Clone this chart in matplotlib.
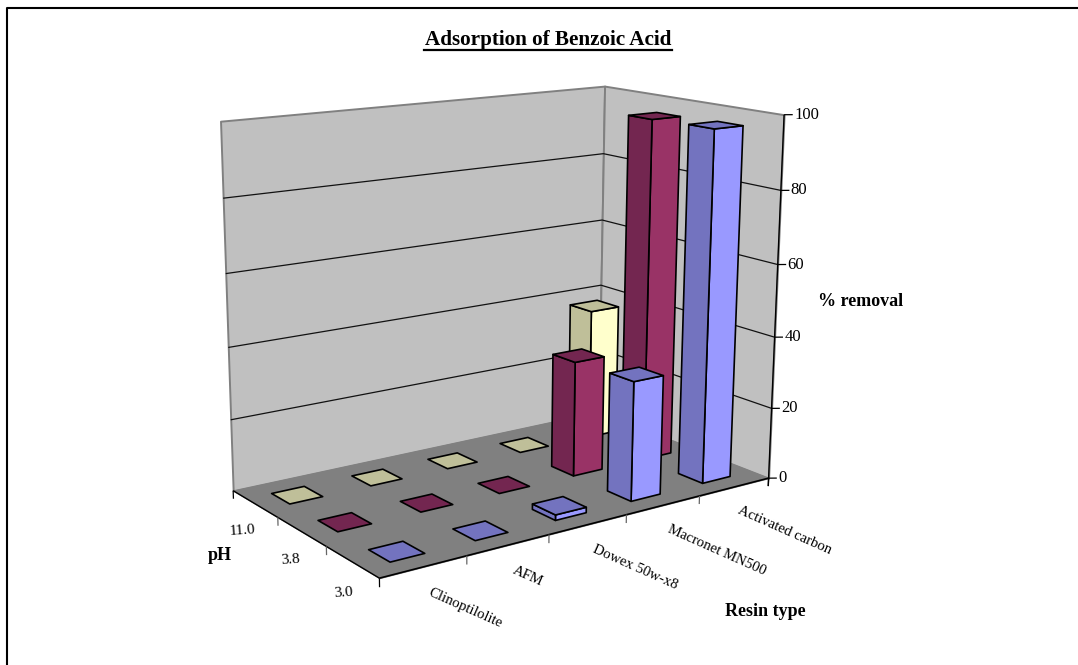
import numpy as np
import matplotlib
matplotlib.use('Agg')
import matplotlib.pyplot as plt
from matplotlib.axes import Axes
from matplotlib.lines import Line2D
from mpl_toolkits.mplot3d.art3d import Poly3DCollection

plt.rcParams['font.family'] = ['Liberation Serif', 'DejaVu Serif']

resin_types = ['Clinoptilolite', 'AFM', 'Dowex 50w-x8', 'Macronet MN500', 'Activated carbon']
ph_labels = ['3.0', '3.8', '11.0']
removal_ph30 = [0, 0, 1.5, 33, 97]
removal_ph38 = [0, 0, 0, 32.5, 96.6]
removal_ph110 = [0, 0, 0, 0, 38]
z_ticks = [0, 20, 40, 60, 80, 100]

light_colors = ['#9999FF', '#993366', '#FFFFCC']
dark_colors = ['#7373BF', '#732650', '#BFBF99']

W, H = 1078, 665
nx, ny, zmax = len(resin_types), len(ph_labels), z_ticks[-1]

# camera fitted on the box corners: (x, y, z) -> picture pixel
box_points = [(0, 0, 0), (nx, 0, 0), (0, ny, 0), (nx, ny, 0), (0, ny, zmax), (nx, ny, zmax), (nx, 0, zmax)]
box_pixels = [(379, 578), (770, 478), (234, 491), (597, 412), (220, 121), (606, 86), (783, 115)]

rows = []
for (a, b, c), (u, v) in zip(box_points, box_pixels):
    rows.append([a, b, c, 1, 0, 0, 0, 0, -u*a, -u*b, -u*c, -u])
    rows.append([0, 0, 0, 0, a, b, c, 1, -v*a, -v*b, -v*c, -v])
cam = np.linalg.svd(np.array(rows, float))[2][-1].reshape(3, 4)
centre = np.linalg.svd(cam)[2][-1]
proj = np.vstack([cam[0], cam[1], centre, cam[2]])

fig = plt.figure(figsize=(W/100, H/100), dpi=100)
ax = fig.add_axes([0, 0, 1, 1], projection='3d')
ax.set_axis_off()
ax.set_proj_type('ortho')  # switches off the clipping to the unit cube
ax.computed_zorder = False
ax.set_autoscale_on(False)
ax.apply_aspect = lambda position=None: None
ax.get_proj = lambda: proj
ax.viewLim.intervalx = (0, W)
ax.viewLim.intervaly = (H, 0)


def face(verts, fc, ec, lw, zo):
    ax.add_collection3d(Poly3DCollection([verts], facecolors=fc, edgecolors=ec, linewidths=lw, zorder=zo), autolim=False)


def line(xs, ys, zs, color='k', lw=1.0, zo=4):
    ax.plot(xs, ys, zs, color=color, lw=lw, zorder=zo, solid_capstyle='butt')


def label(x, y, z, s, **kw):
    p = cam @ np.array([x, y, z, 1.0])
    Axes.text(ax, p[0]/p[2], p[1]/p[2], s, va='center', **kw)


# walls and floor
face([(0, ny, 0), (nx, ny, 0), (nx, ny, zmax), (0, ny, zmax)], '#C0C0C0', '#808080', 1.4, 1)
face([(nx, ny, 0), (nx, 0, 0), (nx, 0, zmax), (nx, ny, zmax)], '#C0C0C0', '#808080', 1.4, 1)
for z in z_ticks[1:-1]:
    line([0, nx, nx], [ny, ny, 0], [z, z, z], color='#111111', lw=0.9, zo=2)
face([(0, 0, 0), (nx, 0, 0), (nx, ny, 0), (0, ny, 0)], '#808080', '#808080', 0.8, 3)

# axis lines and ticks
line([0, nx], [0, 0], [0, 0], lw=1.2)
line([0, 0], [0, ny], [0, 0], lw=1.0)
line([nx, nx], [0, 0], [-2.3, zmax], lw=1.0)
for i in range(nx + 1):
    line([i, i], [0, 0], [0, -2.3], color='k' if i in (0, nx) else '#666666', lw=0.9)
for j in range(1, ny + 1):
    line([0, 0], [j, j], [0, -2.3], color='k' if j == ny else '#666666', lw=0.9)
for z in z_ticks:
    line([nx, nx + 0.075], [0, -0.05], [z, z], lw=0.9)
    label(nx + 0.085, -0.06, z, str(z), fontsize=12, ha='left')

for i, name in enumerate(resin_types):
    label(i*0.965 + 0.2, -0.55, 0, name, fontsize=10.6, ha='left', rotation=-24, rotation_mode='anchor')
for j, name in enumerate(ph_labels):
    label(-0.47, j - 0.12, 0, name, fontsize=11, ha='center', rotation=4)

# bars, far ones first
bar_width = 0.4
series = [removal_ph30, removal_ph38, removal_ph110]
for j in reversed(range(ny)):
    for i in reversed(range(nx)):
        h = series[j][i]
        x0, x1 = i + 0.5 - bar_width/2, i + 0.5 + bar_width/2
        y0, y1 = j + 0.5 - bar_width/2, j + 0.5 + bar_width/2
        zo = 10 + (ny - j)*10 + (nx - i)
        if h > 0:
            face([(x0, y0, 0), (x1, y0, 0), (x1, y0, h), (x0, y0, h)], light_colors[j], 'k', 1.2, zo)
            face([(x0, y0, 0), (x0, y1, 0), (x0, y1, h), (x0, y0, h)], dark_colors[j], 'k', 1.2, zo)
        face([(x0, y0, h), (x1, y0, h), (x1, y1, h), (x0, y1, h)], dark_colors[j], 'k', 1.2, zo)

# frame, title and axis titles in picture pixels
fig.add_artist(Line2D([7/W, 7/W, 1], [0, 1 - 8/H, 1 - 8/H], color='k', lw=1.5))
fig.text(548/W, 1 - 40/H, 'Adsorption of Benzoic Acid', fontsize=15.2, fontweight='bold', ha='center', va='center')
fig.add_artist(Line2D([424/W, 672/W], [1 - 49.5/H, 1 - 49.5/H], color='k', lw=1.6))
fig.text(861/W, 1 - 302/H, '% removal', fontsize=13, fontweight='bold', ha='center', va='center')
fig.text(765/W, 1 - 611.5/H, 'Resin type', fontsize=13, fontweight='bold', ha='center', va='center')
fig.text(220/W, 1 - 555/H, 'pH', fontsize=13, fontweight='bold', ha='center', va='center')

fig.savefig('out.png', dpi=100)
